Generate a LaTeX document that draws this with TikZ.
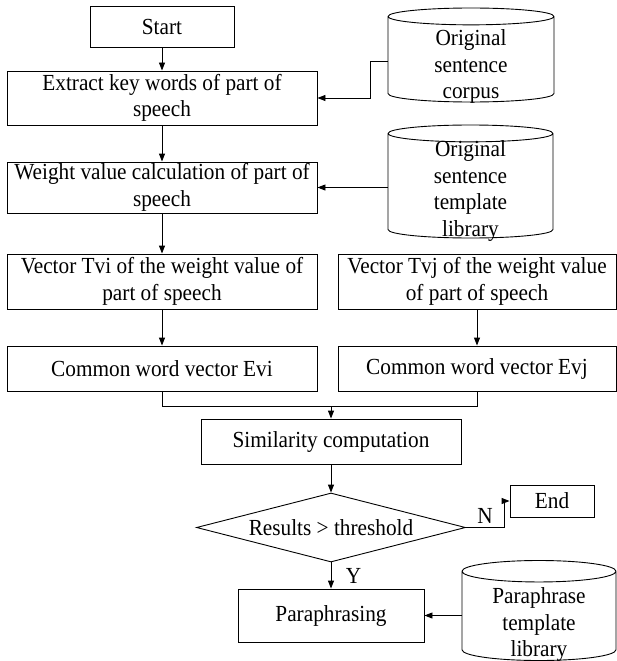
\documentclass[tikz,border=0pt]{standalone}
\usepackage{fontspec}
\setmainfont{Liberation Serif}[FakeStretch=0.925]
\usetikzlibrary{shapes.geometric,arrows.meta,positioning,calc}
\newcommand{\dbtext}[2]{\raisebox{#1}[0pt][0pt]{\begin{tabular}{@{}c@{}}#2\end{tabular}}}

\begin{document}
\begin{tikzpicture}[
  x=1pt, y=1pt,
  every node/.style={font=\fontsize{23}{26.5}\selectfont},
  box/.style={draw, align=center, inner sep=0pt, line width=0.9pt},
  db/.style={draw, cylinder, shape border rotate=90, aspect=0.23, inner sep=0pt, line width=0.9pt, anchor=shape center},
  dec/.style={draw, diamond, aspect=3.9, inner sep=0pt, line width=0.9pt},
  arr/.style={-{Triangle[length=8pt,width=6pt]}, line width=0.9pt}
]
  \useasboundingbox (0,0) rectangle (617,-661);

  % left column
  \node[box, minimum width=144pt, minimum height=41pt] (start) at (162,-26.5) {Start};
  \node[box, minimum width=310pt, minimum height=54pt] (extract) at (162,-98) {Extract key words of part of\\speech};
  \node[box, minimum width=310pt, minimum height=51pt] (weight) at (162,-187.5) {Weight value calculation of part of\\speech};
  \node[box, minimum width=310pt, minimum height=55pt] (tvi) at (162,-281.5) {Vector Tvi of the weight value of\\part of speech};
  \node[box, minimum width=310pt, minimum height=45pt] (evi) at (162,-368.5) {Common word vector Evi};

  % right column
  \node[box, minimum width=278pt, minimum height=55pt] (tvj) at (477,-281.5) {Vector Tvj of the weight value\\of part of speech};
  \node[box, minimum width=278pt, minimum height=45pt] (evj) at (477,-368.5) {Common word vector Evj};

  % databases
  \node[db, minimum width=166pt, minimum height=94pt] (corpus) at (471,-55) {\dbtext{-13.75pt}{Original\\sentence\\corpus}};
  \node[db, minimum width=165pt, minimum height=113pt] (tmpl) at (470.5,-181.5) {\dbtext{-11.25pt}{Original\\sentence\\template\\library}};
  \node[db, minimum width=154pt, minimum height=100pt] (para lib) at (539,-610.5) {\dbtext{-15.25pt}{Paraphrase\\template\\library}};

  % lower part
  \node[box, minimum width=260pt, minimum height=45pt] (sim) at (331,-441.5) {Similarity computation};
  \node[dec, minimum width=269pt, minimum height=69pt] (check) at (331,-527.5) {Results > threshold};
  \node[box, minimum width=84pt, minimum height=32pt] (end) at (552,-501) {End};
  \node[box, minimum width=186pt, minimum height=53pt] (para) at (331,-615.5) {Paraphrasing};
  \coordinate (merge) at ($(sim.north)+(0,12)$);

  % connectors
  \draw[arr] (start) -- (extract);
  \draw[arr] (extract) -- (weight);
  \draw[arr] (weight) -- (tvi);
  \draw[arr] (tvi) -- (evi);
  \draw[arr] (tvj) -- (evj);
  \draw[arr] ([yshift=-6pt]corpus.shape center -| corpus.west) -- ++(-17,0) |- (extract.east);
  \draw[arr] (tmpl.west |- weight.east) -- (weight.east);
  \draw[line width=0.9pt] (evi.south) |- (merge);
  \draw[line width=0.9pt] (evj.south) |- (merge);
  \draw[arr] (merge) -- (sim.north);
  \draw[arr] (sim) -- (check);
  \draw[arr] (check.east) -- node[above] {N} ++(38,0) |- (end.west);
  \draw[arr] (check.south) -- node[right, xshift=11pt] {Y} (para.north);
  \draw[arr] (para lib.west |- para.east) -- (para.east);
\end{tikzpicture}
\end{document}
